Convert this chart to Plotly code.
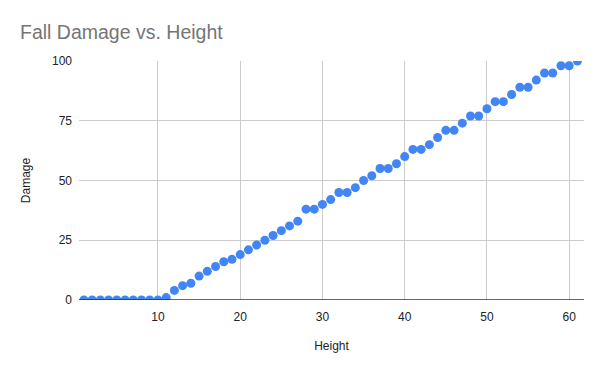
import plotly.graph_objects as go

height = list(range(1, 62))
damage = [0, 0, 0, 0, 0, 0, 0, 0, 0, 0,
          1, 4, 6, 7, 10, 12, 14, 16, 17, 19,
          21, 23, 25, 27, 29, 31, 33, 38, 38, 40,
          42, 45, 45, 47, 50, 52, 55, 55, 57, 60,
          63, 63, 65, 68, 71, 71, 74, 77, 77, 80,
          83, 83, 86, 89, 89, 92, 95, 95, 98, 98,
          100]
x_ticks = [10, 20, 30, 40, 50, 60]
y_ticks = [0, 25, 50, 75, 100]

fig = go.Figure()
fig.add_trace(go.Scatter(
    x=height, y=damage, mode="markers",
    marker=dict(color="#4285F4", size=9, line=dict(width=0)),
    showlegend=False,
))

font = "Liberation Sans, Arial, sans-serif"
fig.update_layout(
    width=600, height=371,
    margin=dict(l=71, r=24, t=53, b=79),
    paper_bgcolor="white", plot_bgcolor="white",
    title=dict(text="Fall Damage vs. Height", x=0.02, xanchor="left",
               y=1 - 24 / 371, yanchor="middle",
               font=dict(family=font, size=19.5, color="#757575")),
    font=dict(family=font, size=12, color="#222222"),
    xaxis=dict(range=[0.4, 61.8], tickvals=x_ticks, showgrid=True,
               gridcolor="#cccccc", gridwidth=1, zeroline=False,
               showline=False, ticks="", ticklabelstandoff=8,
               title=dict(text="Height", standoff=18,
                          font=dict(family=font, size=12, color="#222222"))),
    yaxis=dict(range=[0, 100], tickvals=y_ticks, showgrid=True,
               gridcolor="#cccccc", gridwidth=1, zeroline=False,
               showline=False, ticks="", ticklabelstandoff=6,
               title=dict(text="Damage", standoff=18,
                          font=dict(family=font, size=12, color="#222222"))),
    shapes=[dict(type="line", xref="paper", yref="y", x0=0, x1=1, y0=0, y1=0,
                 line=dict(color="#333333", width=1.5))],
)

fig.write_html("out.html")
